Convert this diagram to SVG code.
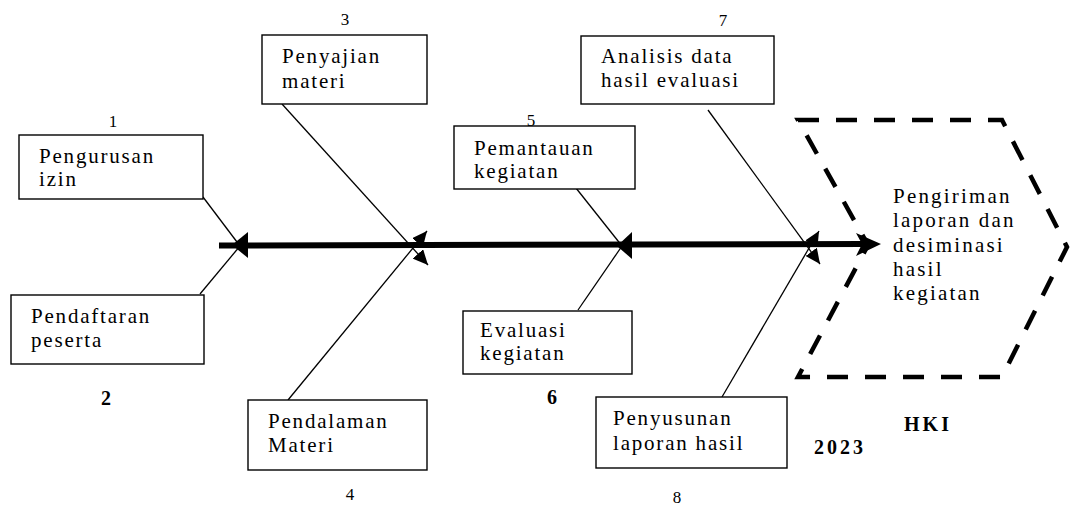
<svg xmlns="http://www.w3.org/2000/svg" width="1082" height="506" viewBox="0 0 1082 506">
  <defs>
    <style>
      .box { fill: #ffffff; stroke: #000; stroke-width: 1.4; }
      .lbl { font-family: "Liberation Serif", "Times New Roman", serif; font-size: 21px; letter-spacing: 1.8px; fill: #000; }
      .hex { letter-spacing: 2.2px; }
      .num { font-family: "Liberation Serif", "Times New Roman", serif; font-size: 17px; fill: #000; text-anchor: middle; }
      .bnum { font-family: "Liberation Serif", "Times New Roman", serif; font-size: 20px; font-weight: bold; fill: #000; text-anchor: middle; }
      .branch { stroke: #000; stroke-width: 1.3; fill: none; }
      .head { fill: #000; }
    </style>
    <marker id="ah" markerUnits="userSpaceOnUse" markerWidth="16" markerHeight="14" refX="15" refY="7" orient="auto">
      <path d="M0,0 L15,7 L0,14 z" fill="#000"/>
    </marker>
  </defs>

  <rect width="1082" height="506" fill="#ffffff"/>

  <!-- connectors -->
  <g id="connectors">
    <line x1="219" y1="245.5" x2="864" y2="244" stroke="#000" stroke-width="6"/>
    <polygon class="head" points="881,244 856,233 862,244 856,256"/>
    <!-- junction 1/2 -->
    <line class="branch" x1="203" y1="197" x2="240" y2="246"/>
    <line class="branch" x1="200" y1="294" x2="240" y2="246"/>
    <polygon class="head" points="232,245 248,232 248,258"/>
    <!-- junction 3/4 -->
    <line class="branch" x1="282" y1="104" x2="428" y2="265" marker-end="url(#ah)"/>
    <line class="branch" x1="288" y1="400" x2="427" y2="231" marker-end="url(#ah)"/>
    <!-- junction 5/6 -->
    <line class="branch" x1="572" y1="183" x2="622" y2="246"/>
    <line class="branch" x1="578" y1="310" x2="622" y2="246"/>
    <polygon class="head" points="617,246 632,232 632,259"/>
    <!-- junction 7/8 -->
    <line class="branch" x1="708" y1="110" x2="820" y2="264" marker-end="url(#ah)"/>
    <line class="branch" x1="722" y1="397" x2="819" y2="231" marker-end="url(#ah)"/>
  </g>

  <!-- numbers -->
  <g id="numbers">
    <text class="num" x="113" y="127">1</text>
    <text class="bnum" x="106" y="405">2</text>
    <text class="num" x="345" y="25">3</text>
    <text class="num" x="350" y="500">4</text>
    <text class="num" x="531" y="126">5</text>
    <text class="bnum" x="552" y="404">6</text>
    <text class="num" x="723" y="26">7</text>
    <text class="num" x="677" y="503">8</text>
  </g>

  <g id="node1">
    <rect class="box" x="19" y="135" width="184" height="64"/>
    <text class="lbl" x="39" y="163">Pengurusan</text>
    <text class="lbl" x="39" y="186">izin</text>
  </g>
  <g id="node2">
    <rect class="box" x="11" y="295" width="193" height="69"/>
    <text class="lbl" x="31" y="323">Pendaftaran</text>
    <text class="lbl" x="31" y="347">peserta</text>
  </g>
  <g id="node3">
    <rect class="box" x="262" y="35" width="165" height="69"/>
    <text class="lbl" x="282" y="63">Penyajian</text>
    <text class="lbl" x="282" y="88">materi</text>
  </g>
  <g id="node4">
    <rect class="box" x="248" y="400" width="179" height="70"/>
    <text class="lbl" x="268" y="428">Pendalaman</text>
    <text class="lbl" x="268" y="452">Materi</text>
  </g>
  <g id="node5">
    <rect class="box" x="454" y="126" width="181" height="63"/>
    <text class="lbl" x="474" y="155">Pemantauan</text>
    <text class="lbl" x="474" y="178">kegiatan</text>
  </g>
  <g id="node6">
    <rect class="box" x="463" y="311" width="169" height="63"/>
    <text class="lbl" x="480" y="337">Evaluasi</text>
    <text class="lbl" x="480" y="360">kegiatan</text>
  </g>
  <g id="node7">
    <rect class="box" x="581" y="36" width="193" height="68"/>
    <text class="lbl" x="601" y="63">Analisis data</text>
    <text class="lbl" x="601" y="87">hasil evaluasi</text>
  </g>
  <g id="node8">
    <rect class="box" x="596" y="397" width="191" height="71"/>
    <text class="lbl" x="613" y="425">Penyusunan</text>
    <text class="lbl" x="613" y="450">laporan hasil</text>
  </g>

  <g id="node9">
    <polygon points="798,120 1002,120 1067,247 1002,377 798,377 868,245" fill="none" stroke="#000" stroke-width="4.5" stroke-dasharray="21 17"/>
    <text class="lbl hex" x="893" y="203">Pengiriman</text>
    <text class="lbl hex" x="893" y="227">laporan dan</text>
    <text class="lbl hex" x="893" y="252">desiminasi</text>
    <text class="lbl hex" x="893" y="276">hasil</text>
    <text class="lbl hex" x="893" y="300">kegiatan</text>
  </g>

  <g id="labels">
    <text class="bnum" x="928" y="431" style="letter-spacing:3px">HKI</text>
    <text class="bnum" x="840" y="454" style="letter-spacing:3px">2023</text>
  </g>
</svg>
